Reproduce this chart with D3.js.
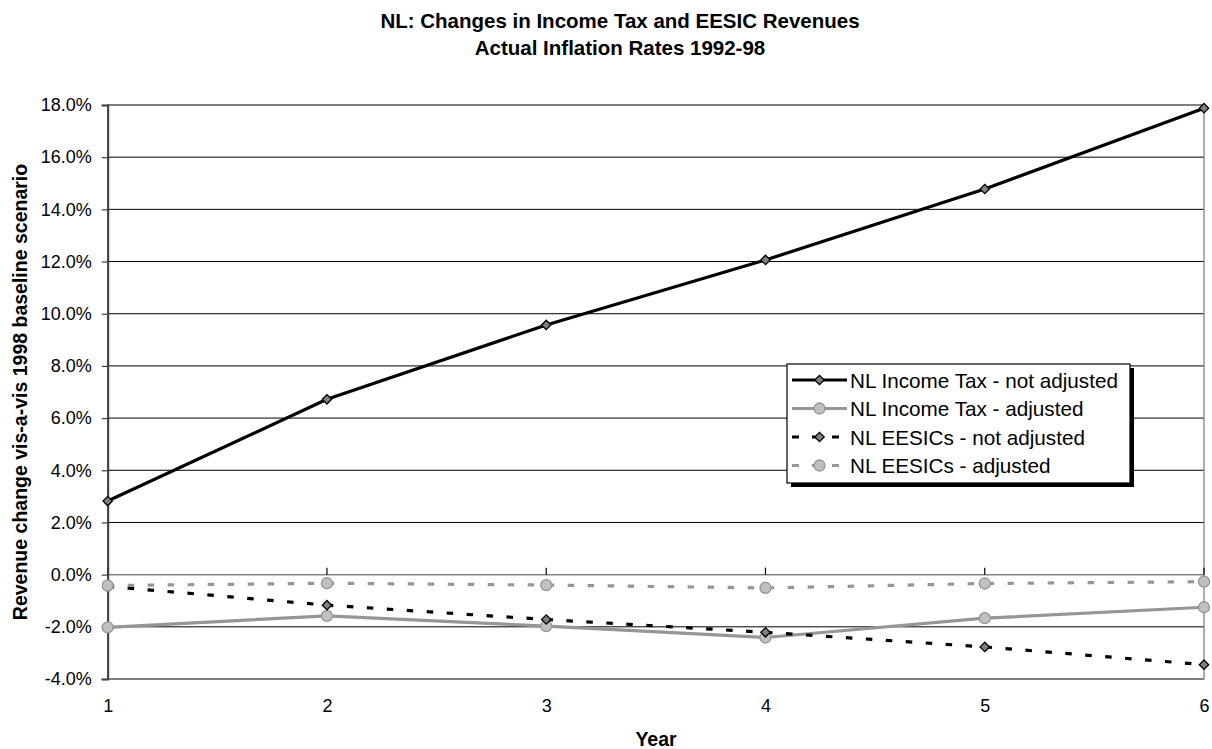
<!DOCTYPE html>
<html>
<head>
<meta charset="utf-8">
<script src="https://cdn.jsdelivr.net/npm/d3@7"></script>
<style>
  html, body { margin: 0; padding: 0; background: #fff; }
  svg { display: block; font-family: Arial, "Liberation Sans", sans-serif; }
</style>
</head>
<body>
<svg id="chart" width="1212" height="749"></svg>
<script>
// Years after the change (x categories)
const years = [1, 2, 3, 4, 5, 6];

// Revenue change vs the 1998 baseline, in percent
const incomeTaxNotAdjusted = [2.82, 6.72, 9.57, 12.06, 14.78, 17.88];
const incomeTaxAdjusted    = [-2.02, -1.58, -1.97, -2.41, -1.67, -1.25];
const eesicNotAdjusted     = [-0.45, -1.17, -1.72, -2.21, -2.77, -3.45];
const eesicAdjusted        = [-0.42, -0.33, -0.40, -0.51, -0.34, -0.27];

// Y axis tick values
const yTicks = [-4, -2, 0, 2, 4, 6, 8, 10, 12, 14, 16, 18];

const seriesNames = [
  "NL Income Tax - not adjusted",
  "NL Income Tax - adjusted",
  "NL EESICs - not adjusted",
  "NL EESICs - adjusted"
];

const series = [
  { name: seriesNames[0], values: incomeTaxNotAdjusted, stroke: "#000", dash: null, marker: "diamond" },
  { name: seriesNames[1], values: incomeTaxAdjusted,    stroke: "#969696", dash: null, marker: "circle" },
  { name: seriesNames[2], values: eesicNotAdjusted,     stroke: "#000", dash: "6.5,13.5", marker: "diamond" },
  { name: seriesNames[3], values: eesicAdjusted,        stroke: "#969696", dash: "6.5,13.5", marker: "circle" }
];

const svg = d3.select("#chart");
const plotLeft = 107.7, plotRight = 1204, plotTop = 105, plotBottom = 679;

const x = d3.scaleLinear().domain([1, 6]).range([plotLeft, plotRight]);
const y = d3.scaleLinear().domain([-4, 18]).range([plotBottom, plotTop]);

// Title
const title = svg.append("text")
  .attr("x", 620).attr("text-anchor", "middle")
  .style("font-weight", "bold").style("font-size", "20.5px");
title.append("tspan").attr("x", 620).attr("y", 28).text("NL: Changes in Income Tax and EESIC Revenues");
title.append("tspan").attr("x", 620).attr("y", 55).text("Actual Inflation Rates 1992-98");

// Horizontal gridlines
svg.append("g")
  .selectAll("line")
  .data(yTicks)
  .join("line")
  .attr("x1", plotLeft).attr("x2", plotRight)
  .attr("y1", d => y(d)).attr("y2", d => y(d))
  .attr("stroke", "#000").attr("stroke-width", 1);

// Plot area border
svg.append("rect")
  .attr("x", plotLeft).attr("y", plotTop)
  .attr("width", plotRight - plotLeft).attr("height", plotBottom - plotTop)
  .attr("fill", "none").attr("stroke", "#808080").attr("stroke-width", 1.3);

// Horizontal axis line at zero with upward tick marks
svg.append("line")
  .attr("x1", plotLeft).attr("x2", plotRight)
  .attr("y1", y(0)).attr("y2", y(0))
  .attr("stroke", "#808080").attr("stroke-width", 1.3);
svg.append("g")
  .selectAll("line")
  .data(years)
  .join("line")
  .attr("x1", d => x(d)).attr("x2", d => x(d))
  .attr("y1", y(0)).attr("y2", y(0) - 7)
  .attr("stroke", "#000").attr("stroke-width", 1.2);

// Y axis (plain hyphen for negative values)
const yAxis = d3.axisLeft(y)
  .tickValues(yTicks)
  .tickSize(6)
  .tickPadding(10)
  .tickFormat(d => d.toFixed(1) + "%");
const yg = svg.append("g").attr("transform", `translate(${plotLeft},0)`).call(yAxis);
yg.select(".domain").attr("stroke", "#404040").attr("stroke-width", 2);
yg.selectAll(".tick line").attr("stroke", "#404040").attr("stroke-width", 1.2);
yg.selectAll(".tick text")
  .style("font-size", "18px").style("font-family", "Arial, 'Liberation Sans', sans-serif")
  .attr("fill", "#000");

// X axis labels along the bottom
const xAxis = d3.axisBottom(x).tickValues(years).tickSize(0).tickPadding(20).tickFormat(d => String(d));
const xg = svg.append("g").attr("transform", `translate(0,${plotBottom})`).call(xAxis);
xg.select(".domain").remove();
xg.selectAll(".tick text")
  .style("font-size", "18px").style("font-family", "Arial, 'Liberation Sans', sans-serif")
  .attr("fill", "#000");

// Axis titles
svg.append("text")
  .attr("x", 656).attr("y", 746)
  .attr("text-anchor", "middle")
  .style("font-weight", "bold").style("font-size", "19.5px")
  .text("Year");
svg.append("text")
  .attr("transform", `translate(27,${(plotTop + plotBottom) / 2}) rotate(-90)`)
  .attr("text-anchor", "middle")
  .style("font-weight", "bold").style("font-size", "19.5px")
  .text("Revenue change vis-a-vis 1998 baseline scenario");

// Marker drawing helper: gray diamonds or light circles
function drawMarker(g, kind, cx, cy) {
  if (kind === "diamond") {
    g.append("path")
      .attr("d", d3.symbol().type(d3.symbolSquare).size(44)())
      .attr("transform", `translate(${cx},${cy}) rotate(45)`)
      .attr("fill", "#808080").attr("stroke", "#000").attr("stroke-width", 1.3);
  } else {
    g.append("circle")
      .attr("cx", cx).attr("cy", cy).attr("r", 5.5)
      .attr("fill", "#c0c0c0").attr("stroke", "#969696").attr("stroke-width", 1.3);
  }
}

const line = d3.line().x((d, i) => x(years[i])).y(d => y(d));

// Series: line first, then its markers, in legend order
series.forEach(s => {
  const g = svg.append("g");
  g.append("path")
    .attr("d", line(s.values))
    .attr("fill", "none")
    .attr("stroke", s.stroke)
    .attr("stroke-width", 3.2)
    .attr("stroke-dasharray", s.dash);
  s.values.forEach((v, i) => drawMarker(g, s.marker, x(years[i]), y(v)));
});

// Legend with drop shadow
const lg = svg.append("g");
const lx = 787, ly = 364, lw = 343, lh = 119;
lg.append("rect").attr("x", lx + 4).attr("y", ly + 4).attr("width", lw).attr("height", lh).attr("fill", "#000");
lg.append("rect").attr("x", lx).attr("y", ly).attr("width", lw).attr("height", lh)
  .attr("fill", "#fff").attr("stroke", "#000").attr("stroke-width", 1.2);
const rowY = [380, 408.5, 437, 465.5];
series.forEach((s, i) => {
  const cy = rowY[i];
  lg.append("line")
    .attr("x1", 792).attr("x2", 847).attr("y1", cy).attr("y2", cy)
    .attr("stroke", s.stroke).attr("stroke-width", 3.2)
    .attr("stroke-dasharray", s.dash ? "7,13" : null);
  drawMarker(lg, s.marker, 819.5, cy);
  lg.append("text")
    .attr("x", 850).attr("y", cy + 7.5)
    .style("font-size", "20.7px")
    .text(s.name);
});
</script>
</body>
</html>
